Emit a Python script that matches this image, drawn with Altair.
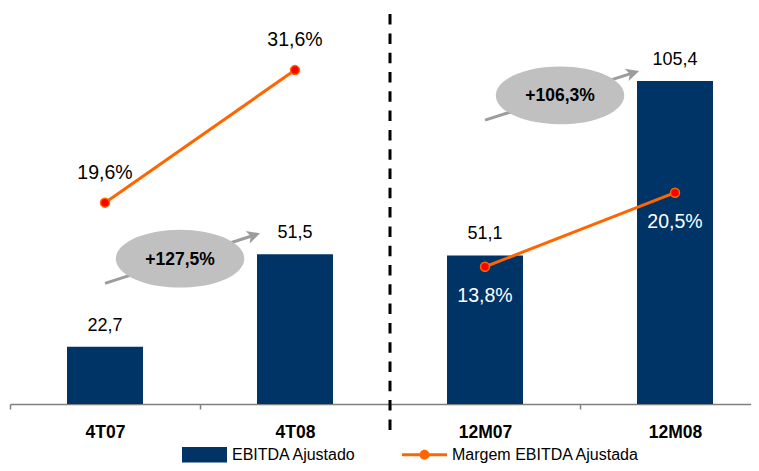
import math
import altair as alt
import pandas as pd

# ---------------- data ----------------
categories = ["4T07", "4T08", "12M07", "12M08"]
ebitda = [22.7, 51.5, 51.1, 105.4]
ebitda_labels = ["22,7", "51,5", "51,1", "105,4"]
margem = [19.6, 31.6, 13.8, 20.5]
margem_labels = ["19,6%", "31,6%", "13,8%", "20,5%"]
periods = ["trimestre", "trimestre", "ano", "ano"]

growth_labels = ["+127,5%", "+106,3%"]
growth_x = [0.895, 2.895]          # category units (0..4)
growth_y = [50.1, 100.9]           # EBITDA units
arrow_x0 = [0.5, 2.5]
arrow_y0 = [42.4, 93.2]
arrow_x1 = [1.316, 3.311]
arrow_y1 = [58.0, 108.5]

separator_x = [2.0]
separator_y_top = [126.2]
separator_y_bottom = [-3.3]

legend_names = ["EBITDA Ajustado", "Margem EBITDA Ajustada"]

# ---------------- layout / style ----------------
W, H = 741, 396
STEP = 190.0
XMAX = W / STEP
Y1 = [4.86, 128.1]
Y2 = [1.376, 37.22]
PX_Y = H / (Y1[1] - Y1[0])
FONT = "Liberation Sans"
NAVY = "#003366"
ORANGE = "#FF6600"
BAR_HALF = 0.2

pos = [i + 0.5 for i in range(len(categories))]

bar_df = pd.DataFrame({
    "cat": categories,
    "pos": pos,
    "x0": [p - BAR_HALF for p in pos],
    "x1": [p + BAR_HALF for p in pos],
    "ebitda": ebitda,
    "label": ebitda_labels,
})
line_df = pd.DataFrame({
    "cat": categories,
    "pos": pos,
    "margem": margem,
    "label": margem_labels,
    "period": periods,
})
growth_df = pd.DataFrame({"x": growth_x, "y": growth_y, "label": growth_labels})

shaft_rows = []
head_rows = []
for i, (x0, y0, x1, y1) in enumerate(zip(arrow_x0, arrow_y0, arrow_x1, arrow_y1)):
    dxp = (x1 - x0) * STEP
    dyp = (y1 - y0) * PX_Y
    L = math.hypot(dxp, dyp)
    back = 8.0 / L
    shaft_rows.append({"id": i, "o": 0, "x": x0, "y": y0})
    shaft_rows.append({"id": i, "o": 1, "x": x1 - (x1 - x0) * back, "y": y1 - (y1 - y0) * back})
    ang = math.degrees(math.atan2(-dyp, dxp)) % 360
    head_rows.append({"x": x1, "y": y1, "ang": ang})
shaft_df = pd.DataFrame(shaft_rows)
head_df = pd.DataFrame(head_rows)

sep_df = pd.DataFrame({"x": separator_x, "y": separator_y_top, "y2": separator_y_bottom})
legend_df = pd.DataFrame({"name": legend_names, "x": [0.0, 0.0], "y": [2.0, 2.0]})

xs = alt.Scale(domain=[0, XMAX], nice=False, zero=False)
y1s = alt.Scale(domain=Y1, nice=False, zero=False)
y2s = alt.Scale(domain=Y2, nice=False, zero=False)

label_expr = " : ".join(f"datum.value == {p} ? '{c}'" for p, c in zip(pos, categories)) + " : ''"
tick_vals = sorted(set([float(i) for i in range(len(categories))] + pos))

x_axis = alt.Axis(
    values=tick_vals, labelExpr=label_expr, title=None, grid=False,
    domain=True, ticks=True,
    domainColor="#808080", domainWidth=1.5,
    tickColor="#808080", tickWidth=1.5, tickSize=5,
    tickOpacity={"condition": {"test": "datum.value % 1 != 0", "value": 0}, "value": 1},
    labelFont=FONT, labelFontSize=17.5, labelFontWeight="bold", labelColor="black",
    labelPadding=14, labelOverlap=False, labelFlush=False, labelBound=False,
)


def X(field):
    return alt.X(field, scale=xs, axis=x_axis, title=None)


bars = alt.Chart(bar_df).mark_bar(color=NAVY).encode(
    x=X("x0:Q"),
    x2="x1:Q",
    y=alt.Y("ebitda:Q", scale=y1s, axis=None),
    y2=alt.datum(Y1[0]),
)

bar_text = alt.Chart(bar_df).mark_text(
    font=FONT, fontSize=18, color="black", baseline="alphabetic", dy=-16
).encode(
    x=X("pos:Q"),
    y=alt.Y("ebitda:Q", scale=y1s, axis=None),
    text="label:N",
)

separator = alt.Chart(sep_df).mark_rule(
    color="black", strokeWidth=3, strokeDash=[10.5, 8.8]
).encode(
    x=X("x:Q"),
    y=alt.Y("y:Q", scale=y1s, axis=None),
    y2="y2:Q",
)

shafts = alt.Chart(shaft_df).mark_line(color="#9c9c9c", strokeWidth=3).encode(
    x=X("x:Q"),
    y=alt.Y("y:Q", scale=y1s, axis=None),
    detail="id:N",
    order="o:Q",
)

head_path = "M0,0 L-1,-0.5 L-0.75,0 L-1,0.5 Z"
heads = alt.Chart(head_df).mark_point(
    shape=head_path, filled=True, color="#9c9c9c", size=676, opacity=1
).encode(
    x=X("x:Q"),
    y=alt.Y("y:Q", scale=y1s, axis=None),
    angle=alt.Angle("ang:Q", scale=None),
)

ellipse_path = "M-1,0 A1,0.45 0 1,1 1,0 A1,0.45 0 1,1 -1,0 Z"
ellipses = alt.Chart(growth_df).mark_point(
    shape=ellipse_path, filled=True, color="#c0c0c0", size=16500, opacity=1
).encode(
    x=X("x:Q"),
    y=alt.Y("y:Q", scale=y1s, axis=None),
)

growth_text = alt.Chart(growth_df).mark_text(
    font=FONT, fontSize=17.5, fontWeight="bold", color="black", baseline="middle", dy=1
).encode(
    x=X("x:Q"),
    y=alt.Y("y:Q", scale=y1s, axis=None),
    text="label:N",
)

line = alt.Chart(line_df).mark_line(color=ORANGE, strokeWidth=3).encode(
    x=X("pos:Q"),
    y=alt.Y("margem:Q", scale=y2s, axis=None),
    detail="period:N",
)

pts = alt.Chart(line_df).mark_circle(
    color="#FF0000", stroke=ORANGE, strokeWidth=1.5, size=80, opacity=1
).encode(
    x=X("pos:Q"),
    y=alt.Y("margem:Q", scale=y2s, axis=None),
)

pct_above = alt.Chart(line_df).transform_filter(
    alt.datum.period == "trimestre"
).mark_text(font=FONT, fontSize=19.5, color="black", baseline="alphabetic", dy=-24).encode(
    x=X("pos:Q"),
    y=alt.Y("margem:Q", scale=y2s, axis=None),
    text="label:N",
)

pct_below = alt.Chart(line_df).transform_filter(
    alt.datum.period == "ano"
).mark_text(font=FONT, fontSize=19.5, color="white", baseline="alphabetic", dy=35).encode(
    x=X("pos:Q"),
    y=alt.Y("margem:Q", scale=y2s, axis=None),
    text="label:N",
)

rect_path = "M-1,-0.34 L1,-0.34 L1,0.34 L-1,0.34 Z"
line_path = ("M-1,-0.07 L1,-0.07 L1,0.07 L-1,0.07 Z "
             "M0.22,0 A0.22,0.22 0 1,1 -0.22,0 A0.22,0.22 0 1,1 0.22,0 Z")
leg = alt.Legend(
    title=None, orient="none", legendX=172, legendY=424, direction="horizontal",
    symbolSize=2025, symbolStrokeWidth=0, labelFont=FONT, labelFontSize=16,
    labelColor="black", labelOffset=5, columnPadding=45, padding=0, labelLimit=400,
)
legend_layer = alt.Chart(legend_df).mark_point(filled=True, clip=True, opacity=1).encode(
    x=X("x:Q"),
    y=alt.Y("y:Q", scale=alt.Scale(domain=[0, 1]), axis=None),
    color=alt.Color("name:N", scale=alt.Scale(domain=legend_names, range=[NAVY, ORANGE]), legend=leg),
    shape=alt.Shape("name:N", scale=alt.Scale(domain=legend_names, range=[rect_path, line_path]), legend=leg),
)

chart = alt.layer(
    bars, separator, shafts, heads, ellipses, growth_text, bar_text,
    line, pts, pct_above, pct_below, legend_layer,
).resolve_scale(y="independent").properties(
    width=W, height=H, autosize="none",
    padding={"left": 2, "top": 0, "right": 0, "bottom": 59},
    view=alt.ViewBackground(strokeWidth=0, strokeOpacity=0),
).configure_view(strokeWidth=0, strokeOpacity=0).configure_axis(
    domain=False, ticks=False, grid=False
).configure_axisY(disable=True).configure_axisRight(disable=True).configure_axisTop(
    disable=True
).configure(background="white")

chart.save("out.html", embed_options={"renderer": "svg", "actions": False})
